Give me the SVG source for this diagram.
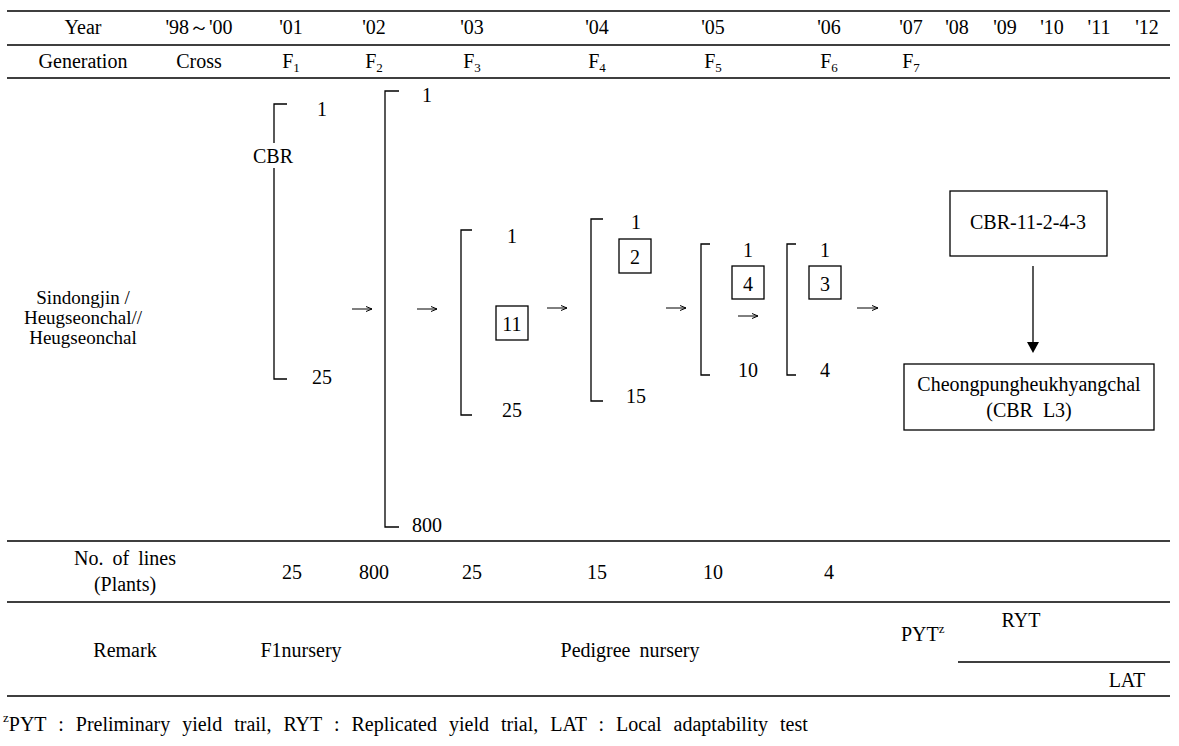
<svg xmlns="http://www.w3.org/2000/svg" width="1179" height="746" viewBox="0 0 1179 746" font-family="'Liberation Serif', 'DejaVu Serif', serif">
<style>
text{font-family:'Liberation Serif','DejaVu Serif',serif;font-size:20px;fill:#000;text-anchor:middle}
.rule{stroke:#000;stroke-width:1.3;fill:none}
.br{stroke:#000;stroke-width:1.3;fill:none}
.bx{stroke:#000;stroke-width:1.3;fill:#fff}
.ar{stroke:#000;stroke-width:1;fill:none;marker-end:url(#ah)}
.sub{font-size:13px}
.l{text-anchor:start}
.par{font-size:19px}
</style>
<defs>
<marker id="ah" viewBox="0 0 8 8" refX="7.5" refY="4" markerWidth="8" markerHeight="8" markerUnits="userSpaceOnUse" orient="auto">
<path d="M1.5,1.5 L7.5,4 L1.5,6.5" fill="none" stroke="#000" stroke-width="1"/>
</marker>
</defs>
<rect width="1179" height="746" fill="#fff"/>
<g id="table">
<path class="rule" d="M7,11H1170M7,45H1170M7,78H1170M7,541H1170M7,602H1170M7,696H1170M958,662H1170"/>
</g>
<g id="header">
<text x="83" y="34">Year</text>
<text x="199" y="34">'98～'00</text>
<text x="291" y="34">'01</text>
<text x="374" y="34">'02</text>
<text x="472" y="34">'03</text>
<text x="597" y="34">'04</text>
<text x="713" y="34">'05</text>
<text x="829" y="34">'06</text>
<text x="911" y="34">'07</text>
<text x="957" y="34">'08</text>
<text x="1005" y="34">'09</text>
<text x="1052" y="34">'10</text>
<text x="1099" y="34">'11</text>
<text x="1147" y="34">'12</text>
<text x="83" y="68">Generation</text>
<text x="199" y="68">Cross</text>
<text x="291" y="68">F<tspan class="sub" dy="4">1</tspan></text>
<text x="374" y="68">F<tspan class="sub" dy="4">2</tspan></text>
<text x="472" y="68">F<tspan class="sub" dy="4">3</tspan></text>
<text x="597" y="68">F<tspan class="sub" dy="4">4</tspan></text>
<text x="713" y="68">F<tspan class="sub" dy="4">5</tspan></text>
<text x="829" y="68">F<tspan class="sub" dy="4">6</tspan></text>
<text x="911" y="68">F<tspan class="sub" dy="4">7</tspan></text>
</g>
<g id="parents">
<text class="par" x="83" y="304">Sindongjin /</text>
<text class="par" x="83" y="324">Heugseonchal//</text>
<text class="par" x="83" y="344">Heugseonchal</text>
</g>
<g id="f1">
<path class="br" d="M287,104H274V143M274,168V379H287"/>
<text x="322" y="116">1</text>
<text x="273" y="163">CBR</text>
<text x="322" y="384">25</text>
</g>
<g id="f2">
<path class="br" d="M399,91H385V527H399"/>
<text x="427" y="102">1</text>
<text x="427" y="532">800</text>
</g>
<g id="f3">
<path class="br" d="M472,230H461V415H472"/>
<text x="512" y="243">1</text>
<rect class="bx" x="496" y="306" width="32" height="34"/>
<text x="512" y="331">11</text>
<text x="512" y="417">25</text>
</g>
<g id="f4">
<path class="br" d="M603,219H591V401H603"/>
<text x="636" y="229">1</text>
<rect class="bx" x="619" y="239" width="32" height="34"/>
<text x="635" y="264">2</text>
<text x="636" y="403">15</text>
</g>
<g id="f5">
<path class="br" d="M710,244H701V375H710"/>
<text x="748" y="257">1</text>
<rect class="bx" x="732" y="266" width="32" height="33"/>
<text x="748" y="291">4</text>
<text x="748" y="377">10</text>
</g>
<g id="f6">
<path class="br" d="M796,244H787V375H796"/>
<text x="825" y="257">1</text>
<rect class="bx" x="809" y="266" width="32" height="33"/>
<text x="825" y="291">3</text>
<text x="825" y="377">4</text>
</g>
<g id="line">
<rect class="bx" x="950" y="191" width="157" height="65"/>
<text x="1028" y="229">CBR-11-2-4-3</text>
</g>
<g id="variety">
<rect class="bx" x="904" y="364" width="250" height="66"/>
<text x="1029" y="391">Cheongpungheukhyangchal</text>
<text x="1029" y="417" xml:space="preserve">(CBR  L3)</text>
</g>
<g id="connectors">
<path class="ar" d="M352,309H372"/>
<path class="ar" d="M417,309H437"/>
<path class="ar" d="M547,308H567"/>
<path class="ar" d="M666,308H686"/>
<path class="ar" d="M738,316H758"/>
<path class="ar" d="M857,308H878"/>
<path d="M1033,266V343" stroke="#000" stroke-width="1.3" fill="none"/>
<path d="M1027,342H1039L1033,353Z" fill="#000"/>
</g>
<g id="counts">
<text x="125" y="565" style="word-spacing:4px">No. of lines</text>
<text x="125" y="591">(Plants)</text>
<text x="292" y="579">25</text>
<text x="374" y="579">800</text>
<text x="472" y="579">25</text>
<text x="597" y="579">15</text>
<text x="713" y="579">10</text>
<text x="829" y="579">4</text>
</g>
<g id="remarks">
<text x="125" y="657">Remark</text>
<text x="301" y="657">F1nursery</text>
<text x="630" y="657" style="word-spacing:4px">Pedigree nursery</text>
<text class="l" x="901" y="641">PYT<tspan class="sub" dy="-8">z</tspan></text>
<text x="1021" y="627">RYT</text>
<text x="1127" y="687">LAT</text>
</g>
<g id="footnote">
<text class="l" x="3" y="731" style="word-spacing:7px"><tspan class="sub" dy="-9">z</tspan><tspan dy="9">PYT : Preliminary yield trail, RYT : Replicated yield trial, LAT : Local adaptability test</tspan></text>
</g>
</svg>
